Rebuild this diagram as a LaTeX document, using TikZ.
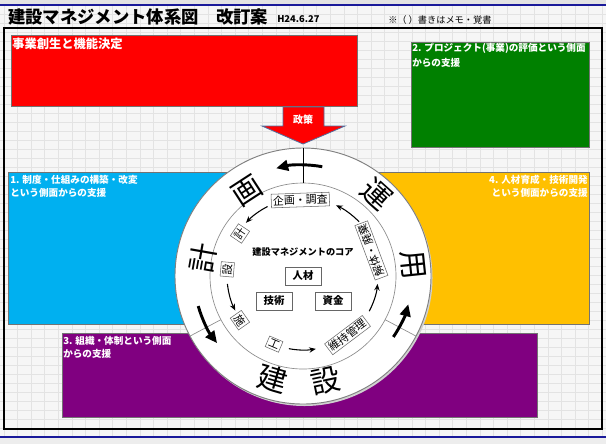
\documentclass[tikz,border=0pt]{standalone}
\usepackage{fontspec}
\setmainfont{Noto Sans CJK JP}
\usetikzlibrary{arrows.meta}
\definecolor{pred}{HTML}{FF0000}
\definecolor{pgreen}{HTML}{008000}
\definecolor{pcyan}{HTML}{00B0F0}
\definecolor{pyellow}{HTML}{FFC000}
\definecolor{ppurple}{HTML}{800080}
\definecolor{arrowedge}{HTML}{4F6F9F}
\definecolor{bandblue}{HTML}{1A1A9A}
\newcommand\fsz[2]{\fontsize{#1}{#2}\selectfont}
\begin{document}
\begin{tikzpicture}[x=0.75pt,y=0.75pt,
  panel/.style={anchor=north west, inner sep=0pt, draw=black!55, line width=0.4pt},
  paneltext/.style={text=white, font=\fsz{7.2pt}{9.6pt}\bfseries, inner sep=0pt},
  lbl/.style={draw=black!60, fill=white, line width=0.4pt, inner sep=1.3pt, font=\fsz{8.2pt}{8.2pt}},
  corebox/.style={draw=black!60, fill=white, line width=0.5pt, minimum width=27pt, minimum height=13.5pt, inner sep=0pt, font=\fsz{7.8pt}{7.8pt}\bfseries},
  bigc/.style={font=\fsz{22pt}{22pt}, inner sep=0pt},
  ring/.style={draw=black!45, line width=0.5pt},
  bigarrow/.style={line width=2.2pt, -{Triangle[length=9pt,width=8pt]}},
  smallarrow/.style={line width=0.8pt, -{Stealth[length=5pt,width=4pt]}}]
\useasboundingbox (0,0) rectangle (606,-444);
% spreadsheet background
\fill[gray!7] (0,0) rectangle (606,-444);
\foreach \i in {0,...,44} \draw[gray!22, line width=0.5pt] ({4+\i*13.6},-5) -- ({4+\i*13.6},-437);
\foreach \j in {0,...,48} \draw[gray!22, line width=0.5pt] (0,{-5-\j*9}) -- (606,{-5-\j*9});
\fill[gray!22] (0,0) rectangle (606,-5);
\fill[gray!14] (0,-437) rectangle (606,-444);
\draw[bandblue, line width=0.9pt] (0,-5) -- (606,-5);
\draw[bandblue, line width=0.9pt] (0,-437) -- (606,-437);
% frame
\draw[black, line width=1.2pt] (4,-28) rectangle (602,-429);
% title
\node[anchor=west, inner sep=0pt, font=\fsz{13pt}{13pt}\bfseries] (title) at (8,-17) {建設マネジメント体系図　改訂案};
\node[anchor=west, inner sep=0pt, font=\fsz{7pt}{7pt}\bfseries] (date) at (277,-19) {H24.6.27};
\node[anchor=west, inner sep=0pt, font=\fsz{6.9pt}{6.9pt}] (memo) at (388,-20) {※（ ）書きはメモ・覚書};
% panels
\node[panel, fill=pred, minimum width=259.5pt, minimum height=53.25pt] (red) at (11,-35) {};
\node[panel, fill=pgreen, minimum width=133.5pt, minimum height=78.75pt] (green) at (411,-42) {};
\node[panel, fill=pcyan, minimum width=181.5pt, minimum height=114pt] (cyan) at (8,-172) {};
\node[panel, fill=pyellow, minimum width=171.75pt, minimum height=114pt] (yellow) at (360,-172) {};
\node[panel, fill=ppurple, minimum width=356.25pt, minimum height=63pt] (purple) at (62,-333) {};
\node[anchor=north west, text=white, font=\fsz{9.2pt}{9.2pt}\bfseries, inner sep=0pt] (redtxt) at (12,-38) {事業創生と機能決定};
\node[paneltext, anchor=north west, align=left, font=\fsz{7.2pt}{11.4pt}\bfseries] (greentxt) at (412,-43) {2. プロジェクト(事業)の評価という側面\\からの支援};
\node[paneltext, anchor=north west, align=left] (cyantxt) at (10,-175) {1. 制度・仕組みの構築・改変\\という側面からの支援};
\node[paneltext, anchor=north east, align=right] (yellowtxt) at (588,-175) {4. 人材育成・技術開発\\という側面からの支援};
\node[paneltext, anchor=north west, align=left] (purpletxt) at (63,-336) {3. 組織・体制という側面\\からの支援};
% circle
\coordinate (c) at (303,-276);
\fill[black!18] ([shift={(1.5,-2)}]c) circle[radius=128];
\filldraw[fill=white, draw=black!50, line width=0.7pt] (c) circle[radius=128];
\draw[ring] (c) circle[radius=93];
\draw[black, line width=0.7pt] ([shift={(c)}]90:93) -- ([shift={(c)}]90:128);
\draw[ring] ([shift={(c)}]208:93) -- ([shift={(c)}]208:128);
\draw[ring] ([shift={(c)}]332:93) -- ([shift={(c)}]332:128);
% big characters
\node[bigc, rotate=80] (kei) at ([shift={(c)}]170:101) {計};
\node[bigc, rotate=33] (ga) at ([shift={(c)}]123:102) {画};
\node[bigc, rotate=-42] (un) at ([shift={(c)}]48:110) {運};
\node[bigc, rotate=-84] (you) at ([shift={(c)}]5.5:111) {用};
\node[bigc, rotate=-16] (ken) at ([shift={(c)}]253.6:107) {建};
\node[bigc, rotate=12] (setsu) at ([shift={(c)}]282:107) {設};
% big arrows
\draw[bigarrow] ([shift={(c)}]80:111) arc[start angle=80, end angle=104, radius=111];
\draw[bigarrow] ([shift={(c)}]196:109) arc[start angle=196, end angle=218, radius=109];
\draw[bigarrow] ([shift={(c)}]326:109) arc[start angle=326, end angle=345, radius=109];
% inner cycle labels
\node[lbl, rotate=2] (kikaku) at ([shift={(c)}]92:76) {企画・調査};
\node[lbl, rotate=56] (kei2) at ([shift={(c)}]146:76) {計};
\node[lbl, rotate=85] (setsu2) at ([shift={(c)}]175:76) {設};
\node[lbl, rotate=-55] (se) at ([shift={(c)}]215:77) {施};
\node[lbl, rotate=-23] (kou) at ([shift={(c)}]247:74) {工};
\node[lbl, rotate=37] (iji) at ([shift={(c)}]307:74) {維持管理};
\node[lbl, rotate=110.5] (kaitai) at ([shift={(c)}]20.5:73) {解体・廃棄};
\draw[smallarrow] ([shift={(c)}]117:78) arc[start angle=117, end angle=137, radius=78];
\draw[smallarrow] ([shift={(c)}]186:76) arc[start angle=186, end angle=207, radius=76];
\draw[smallarrow] ([shift={(c)}]259:74) arc[start angle=259, end angle=280, radius=74];
\draw[smallarrow] ([shift={(c)}]332:75) arc[start angle=332, end angle=354, radius=75];
\draw[smallarrow] ([shift={(c)}]44:78) arc[start angle=44, end angle=65, radius=78];
% core
\node[inner sep=0pt, font=\fsz{6.9pt}{6.9pt}\bfseries] (core) at (303,-252) {建設マネジメントのコア};
\node[corebox] (jinzai) at (303,-276) {人材};
\node[corebox] (gijutsu) at (274,-301) {技術};
\node[corebox] (shikin) at (333,-301) {資金};
% policy arrow
\filldraw[fill=pred, draw=arrowedge, line width=0.6pt] (283,-107) -- (324,-107) -- (324,-126) -- (345,-126) -- (303,-144) -- (262,-126) -- (283,-126) -- cycle;
\node[text=white, inner sep=0pt, font=\fsz{7.5pt}{7.5pt}\bfseries] (seisaku) at (303,-120) {政策};
\end{tikzpicture}
\end{document}
